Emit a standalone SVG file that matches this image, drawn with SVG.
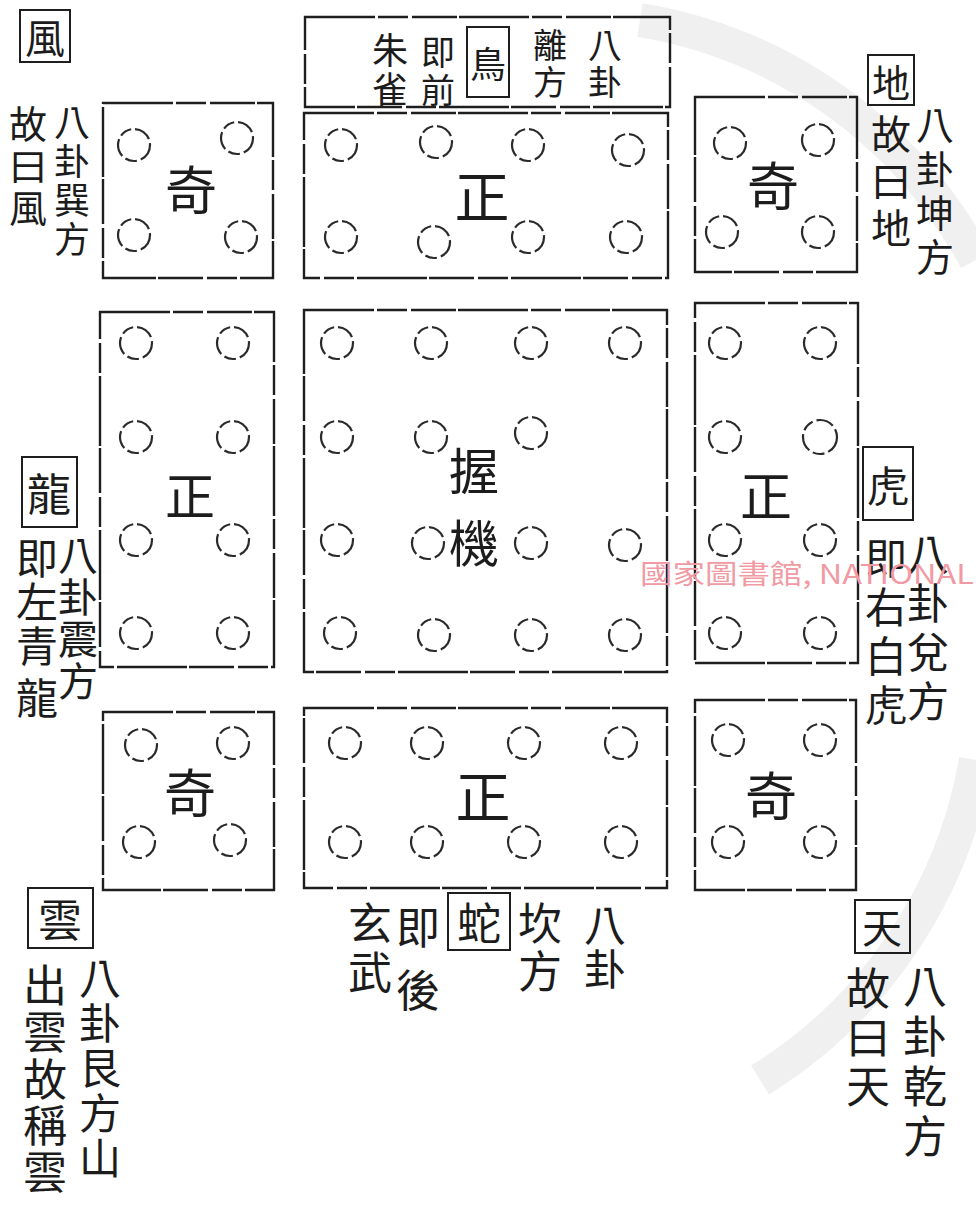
<svg xmlns="http://www.w3.org/2000/svg" width="976" height="1209" viewBox="0 0 976 1209">
<style>
.blk{fill:none;stroke:#1e1e1e;stroke-width:2.4;stroke-dasharray:70 3 30 4 45 2}
.c{fill:none;stroke:#2a2a2a;stroke-width:2.2;stroke-dasharray:18 4 12 4}
.k{font-family:"Noto Sans CJK TC","Noto Sans CJK SC",sans-serif;fill:#1c1c1c;text-anchor:middle;dominant-baseline:central}
.bx{fill:none;stroke:#1e1e1e;stroke-width:2}
.wm{font-family:"Noto Sans CJK TC","Liberation Sans",sans-serif;fill:#f19aa4;font-size:27px}
</style>
<rect width="976" height="1209" fill="#ffffff"/>
<g id="watermark-seal" fill="none" stroke="#ececec" stroke-width="34" opacity="0.8">
<path d="M640 20 A470 470 0 0 1 976 260"/>
<path d="M976 760 A470 470 0 0 1 760 1080"/>
</g>

<g id="connectors">
</g>

<g id="title">
<rect class="blk" x="305" y="17" width="365" height="90"/>
<text class="k" font-size="34" x="605 605" y="43 80">八卦</text>
<text class="k" font-size="34" x="550 550" y="43 80">離方</text>
<rect class="bx" x="467" y="27" width="42" height="70"/>
<text class="k" font-size="36" x="488" y="62">鳥</text>
<text class="k" font-size="34" x="438 438" y="50 88">即前</text>
<text class="k" font-size="36" x="390 390" y="48 87">朱雀</text>
</g>

<g id="block-tl">
<rect class="blk" x="103" y="103" width="170" height="175"/>
<circle class="c" cx="134" cy="145" r="16"/><circle class="c" cx="237" cy="138" r="16"/>
<circle class="c" cx="134" cy="235" r="16"/><circle class="c" cx="241" cy="237" r="16"/>
<text class="k" font-size="52" x="191" y="187">奇</text>
</g>
<g id="block-tc">
<rect class="blk" x="304" y="113" width="364" height="165"/>
<circle class="c" cx="341" cy="145" r="16"/><circle class="c" cx="436" cy="142" r="16"/>
<circle class="c" cx="528" cy="145" r="16"/><circle class="c" cx="628" cy="150" r="16"/>
<circle class="c" cx="341" cy="237" r="16"/><circle class="c" cx="434" cy="242" r="16"/>
<circle class="c" cx="528" cy="237" r="16"/><circle class="c" cx="626" cy="237" r="16"/>
<text class="k" font-size="55" x="482" y="193">正</text>
</g>
<g id="block-tr">
<rect class="blk" x="695" y="97" width="162" height="175"/>
<circle class="c" cx="730" cy="143" r="16"/><circle class="c" cx="818" cy="140" r="16"/>
<circle class="c" cx="722" cy="232" r="16"/><circle class="c" cx="818" cy="232" r="16"/>
<text class="k" font-size="52" x="773" y="183">奇</text>
</g>

<g id="block-ml">
<rect class="blk" x="100" y="312" width="174" height="355"/>
<circle class="c" cx="136" cy="343" r="16"/><circle class="c" cx="233" cy="343" r="16"/>
<circle class="c" cx="136" cy="437" r="16"/><circle class="c" cx="233" cy="437" r="16"/>
<circle class="c" cx="136" cy="540" r="16"/><circle class="c" cx="233" cy="540" r="16"/>
<circle class="c" cx="136" cy="633" r="16"/><circle class="c" cx="233" cy="633" r="16"/>
<text class="k" font-size="50" x="190" y="493">正</text>
</g>
<g id="block-mc">
<rect class="blk" x="304" y="310" width="363" height="362"/>
<circle class="c" cx="337" cy="343" r="16"/><circle class="c" cx="431" cy="343" r="16"/>
<circle class="c" cx="531" cy="343" r="16"/><circle class="c" cx="625" cy="343" r="16"/>
<circle class="c" cx="337" cy="437" r="16"/><circle class="c" cx="431" cy="437" r="16"/>
<circle class="c" cx="531" cy="433" r="16"/>
<circle class="c" cx="337" cy="540" r="16"/><circle class="c" cx="428" cy="543" r="16"/>
<circle class="c" cx="531" cy="543" r="16"/><circle class="c" cx="625" cy="545" r="16"/>
<circle class="c" cx="340" cy="633" r="16"/><circle class="c" cx="434" cy="635" r="16"/>
<circle class="c" cx="531" cy="635" r="16"/><circle class="c" cx="625" cy="635" r="16"/>
<text class="k" font-size="50" x="474" y="468">握</text>
<text class="k" font-size="50" x="474" y="540">機</text>
</g>
<g id="block-mr">
<rect class="blk" x="695" y="303" width="163" height="360"/>
<circle class="c" cx="725" cy="343" r="16"/><circle class="c" cx="820" cy="343" r="16"/>
<circle class="c" cx="725" cy="437" r="16"/><circle class="c" cx="820" cy="437" r="17"/>
<circle class="c" cx="725" cy="540" r="16"/><circle class="c" cx="820" cy="540" r="16"/>
<circle class="c" cx="725" cy="633" r="16"/><circle class="c" cx="820" cy="633" r="16"/>
<text class="k" font-size="52" x="766" y="493">正</text>
</g>

<g id="block-bl">
<rect class="blk" x="103" y="712" width="171" height="178"/>
<circle class="c" cx="141" cy="745" r="16"/><circle class="c" cx="233" cy="743" r="16"/>
<circle class="c" cx="139" cy="842" r="16"/><circle class="c" cx="230" cy="840" r="16"/>
<text class="k" font-size="52" x="190" y="790">奇</text>
</g>
<g id="block-bc">
<rect class="blk" x="304" y="708" width="363" height="180"/>
<circle class="c" cx="345" cy="743" r="16"/><circle class="c" cx="427" cy="743" r="16"/>
<circle class="c" cx="524" cy="743" r="16"/><circle class="c" cx="621" cy="743" r="16"/>
<circle class="c" cx="345" cy="842" r="16"/><circle class="c" cx="427" cy="842" r="16"/>
<circle class="c" cx="524" cy="842" r="16"/><circle class="c" cx="621" cy="842" r="16"/>
<text class="k" font-size="55" x="483" y="793">正</text>
</g>
<g id="block-br">
<rect class="blk" x="695" y="700" width="161" height="190"/>
<circle class="c" cx="728" cy="740" r="16"/><circle class="c" cx="820" cy="740" r="16"/>
<circle class="c" cx="728" cy="842" r="16"/><circle class="c" cx="820" cy="842" r="16"/>
<text class="k" font-size="52" x="771" y="793">奇</text>
</g>

<g id="label-feng">
<rect class="bx" x="20" y="10" width="50" height="52"/>
<text class="k" font-size="40" x="45" y="36">風</text>
<text class="k" font-size="36" x="72 72 72 72" y="120 159 198 237">八卦巽方</text>
<text class="k" font-size="38" x="28 28 28" y="121 163 205">故曰風</text>
</g>
<g id="label-di">
<rect class="bx" x="868" y="55" width="46" height="50"/>
<text class="k" font-size="38" x="891" y="80">地</text>
<text class="k" font-size="38" x="935 935 935 935" y="122 166 210 254">八卦坤方</text>
<text class="k" font-size="40" x="891 891 891" y="132 179 226">故曰地</text>
</g>
<g id="label-long">
<rect class="bx" x="22" y="457" width="55" height="70"/>
<text class="k" font-size="44" x="49" y="492">龍</text>
<text class="k" font-size="40" x="78 78 78 78" y="553 595 637 679">八卦震方</text>
<text class="k" font-size="42" x="37 37 37 37" y="555 599 643 695">即左青龍</text>
</g>
<g id="label-hu">
<rect class="bx" x="863" y="447" width="50" height="73"/>
<text class="k" font-size="42" x="888" y="483">虎</text>
<text class="k" font-size="42" x="928 928 928 928" y="551 600 649 698">八卦兌方</text>
<text class="k" font-size="42" x="886 886 886 886" y="555 604 653 702">即右白虎</text>
</g>
<g id="label-yun">
<rect class="bx" x="28" y="888" width="65" height="60"/>
<text class="k" font-size="44" x="60" y="918">雲</text>
<text class="k" font-size="42" x="100 100 100 100 100" y="975 1020 1065 1110 1155">八卦艮方山</text>
<text class="k" font-size="44" x="45 45 45 45 45" y="983 1030 1077 1123 1170">出雲故稱雲</text>
</g>
<g id="label-she">
<text class="k" font-size="42" x="605 605" y="922 966">八卦</text>
<text class="k" font-size="44" x="540 540" y="921 969">坎方</text>
<rect class="bx" x="448" y="893" width="62" height="57"/>
<text class="k" font-size="44" x="479" y="921">蛇</text>
<text class="k" font-size="44" x="418 418" y="925 988">即後</text>
<text class="k" font-size="44" x="370 370" y="921 970">玄武</text>
</g>
<g id="label-tian">
<rect class="bx" x="855" y="900" width="55" height="53"/>
<text class="k" font-size="40" x="882" y="926">天</text>
<text class="k" font-size="44" x="925 925 925 925" y="984 1034 1084 1134">八卦乾方</text>
<text class="k" font-size="44" x="868 868 868" y="986 1035 1084">故曰天</text>
</g>

<text class="wm" x="640" y="584" textLength="334" lengthAdjust="spacingAndGlyphs">國家圖書館, NATIONAL</text>
</svg>
